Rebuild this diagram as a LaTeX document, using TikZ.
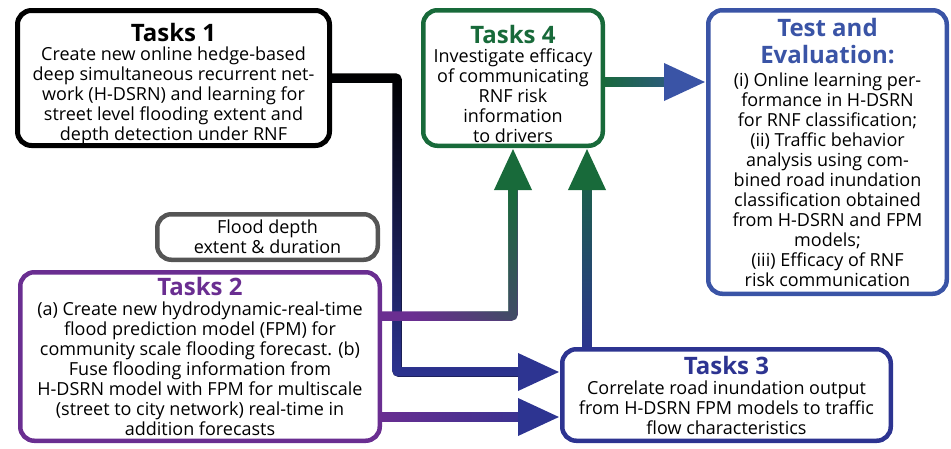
\documentclass[tikz,border=0pt]{standalone}
\usepackage{fontspec}
\setmainfont{Open Sans}
\usetikzlibrary{positioning,arrows.meta,fadings}

\definecolor{taskgreen}{RGB}{24,106,58}
\definecolor{taskblue}{RGB}{58,84,166}
\definecolor{taskindigo}{RGB}{45,52,145}
\definecolor{taskpurple}{RGB}{106,46,145}
\definecolor{boxgray}{RGB}{85,85,85}

% fadings for the colour change along the links
\tikzfading[name=opaquetop, top color=transparent!0, bottom color=transparent!100]
\tikzfading[name=opaquebottom, top color=transparent!100, bottom color=transparent!0]
\tikzfading[name=opaqueright, left color=transparent!100, right color=transparent!0]
\tikzfading[name=opaquetopright, top color=transparent!0, bottom color=transparent!100, shading angle=-45]

\newcommand{\headline}[1]{{\fontsize{24}{27}\selectfont\bfseries #1}}

\begin{document}
\begin{tikzpicture}[x=1pt,y=-1pt,on grid]
    \tikzset{task/.style={draw,rounded corners=14pt,line width=4.5pt,align=center,
        inner sep=0pt,font=\fontsize{18}{20}\selectfont},
      link/.style={line width=9.5pt,rounded corners=2pt},
      headcol/.style={-{Triangle[length=42pt,width=35pt,color=#1]}},
      blend/.style={link,#1,shorten >=40pt}}
    \useasboundingbox (0,0) rectangle (951,448);

    \node[task,line width=5pt,minimum width=312pt,minimum height=135pt] (t1) at (173.5,78)
    {\headline{\rule{0pt}{30pt}Tasks 1}\\[-1pt]
      Create new online hedge-based\\
      deep simultaneous recurrent net-\\
      work (H-DSRN) and learning for\\
      street level flooding extent and\\
      depth detection under RNF};
    \node[task,taskgreen,minimum width=179.5pt,minimum height=135.5pt] (t4) [right=339.5pt of t1]
    {\headline{\rule{0pt}{30pt}Tasks 4}\\[-1pt]
      \color{black}Investigate efficacy\\
      \color{black}of communicating\\
      \color{black}RNF risk\\
      \color{black}information\\
      \color{black}to drivers};
    \node[task,taskblue,minimum width=238.5pt,minimum height=283.5pt] (te) [below right=74pt and 314.5pt of t4]
    {\headline{Test and}\\[7pt]
      \headline{Evaluation:}\\[3pt]
      \color{black}(i) Online learning per-\\
      \color{black}formance in H-DSRN\\
      \color{black}for RNF classification;\\
      \color{black}(ii) Traffic behavior\\
      \color{black}analysis using com-\\
      \color{black}bined road inundation\\
      \color{black}classification obtained\\
      \color{black}from H-DSRN and FPM\\
      \color{black}models;\\
      \color{black}(iii) Efficacy of RNF\\
      \color{black}risk communication};
    \node[task,boxgray,minimum width=220.5pt,minimum height=45.5pt] (flood) [below right=159pt and 94pt of t1]
    {\color{black}Flood depth\\
      \color{black}extent \& duration};
    \node[task,taskpurple,minimum width=359.5pt,minimum height=168.5pt] (t2) [below left=119.5pt and 67.5pt of flood]
    {\headline{Tasks 2}\\
      \color{black}(a) Create new hydrodynamic-real-time\\
      \color{black}flood prediction model (FPM) for\\
      \color{black}community scale flooding forecast. (b)\\
      \color{black}Fuse flooding information from\\
      \color{black}H-DSRN model with FPM for multiscale\\
      \color{black}(street to city network) real-time in\\
      \color{black}addition forecasts};
    \node[task,taskindigo,minimum width=328.5pt,minimum height=91.5pt] (t3) [below right=38.5pt and 526.5pt of t2]
    {\headline{Tasks 3}\\
      \color{black}Correlate road inundation output\\
      \color{black}from H-DSRN FPM models to traffic\\
      \color{black}flow characteristics};

    \coordinate (bend1) at (397,372);
    \coordinate (bend2) at (513,316);
    \coordinate (low) at (470,417);
    \coordinate (up) at (587,250);
    \coordinate (mid) at (650,82);

    % Tasks 1 -> Tasks 3
    \draw[link,black,headcol=taskindigo] (t1.east) -| (bend1) -- (bend1 -| t3.west);
    \draw[blend=taskindigo,path fading=opaquebottom] (t1.east) -| (bend1) -- (bend1 -| t3.west);
    % Tasks 2 -> Tasks 4
    \draw[link,taskpurple,headcol=taskgreen] (bend2 -| t2.east) -- (bend2) -- (t4.south);
    \draw[blend=taskgreen,path fading=opaquetopright] (bend2 -| t2.east) -- (bend2) -- (t4.south);
    % Tasks 2 -> Tasks 3
    \draw[link,taskpurple,headcol=taskindigo] (low -| t2.east) -- (low -| t3.west);
    \draw[blend=taskindigo,path fading=opaqueright] (low -| t2.east) -- (low -| t3.west);
    % Tasks 3 -> Tasks 4
    \draw[link,taskindigo,headcol=taskgreen] (up |- t3.north) -- (up |- t4.south);
    \draw[blend=taskgreen,path fading=opaquetop] (up |- t3.north) -- (up |- t4.south);
    % Tasks 4 -> Test and Evaluation
    \draw[link,taskgreen,headcol=taskblue] (mid -| t4.east) -- (mid -| te.west);
    \draw[blend=taskblue,path fading=opaqueright] (mid -| t4.east) -- (mid -| te.west);
\end{tikzpicture}
\end{document}
